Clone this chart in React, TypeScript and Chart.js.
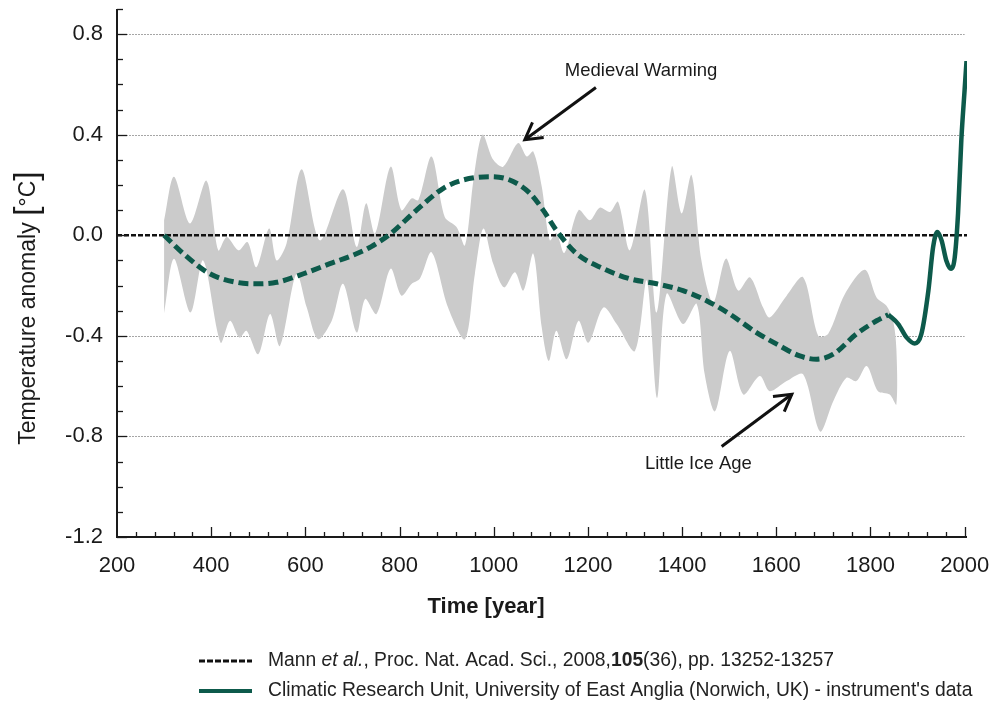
import { useEffect, useRef } from "react";
import { Chart, registerables } from "chart.js";

Chart.register(...registerables);

// ---------- data ----------
const upperYears = [300, 321, 355, 390, 415, 433, 458, 477, 496, 523, 539, 560, 592, 631, 680, 709, 729, 748, 781, 804, 826, 840, 868, 896, 921, 939, 957, 976, 999, 1020, 1052, 1070, 1084, 1102, 1119, 1133, 1150, 1180, 1204, 1225, 1247, 1264, 1289, 1321, 1346, 1378, 1399, 1420, 1441, 1466, 1493, 1519, 1544, 1572, 1586, 1622, 1657, 1689, 1710, 1746, 1788, 1813, 1834, 1848, 1855];
const upperValues = [0.06, 0.233, 0.047, 0.217, -0.06, -0.007, -0.06, -0.027, -0.127, 0.027, -0.1, -0.033, 0.263, -0.02, 0.183, -0.047, 0.127, 0.007, 0.273, 0.1, 0.147, 0.14, 0.313, 0.073, 0.033, -0.04, 0.22, 0.4, 0.3, 0.273, 0.367, 0.313, 0.333, 0.193, -0.02, 0.01, -0.07, 0.1, 0.06, 0.11, 0.093, 0.133, -0.06, 0.18, -0.307, 0.273, 0.087, 0.24, -0.1, -0.267, -0.093, -0.22, -0.167, -0.287, -0.327, -0.24, -0.167, -0.4, -0.393, -0.233, -0.137, -0.247, -0.28, -0.34, -0.45];

const lowerYears = [300, 321, 356, 383, 420, 440, 460, 475, 500, 525, 546, 581, 603, 627, 656, 680, 709, 727, 751, 781, 804, 826, 843, 868, 903, 939, 960, 978, 999, 1022, 1045, 1063, 1084, 1102, 1117, 1133, 1155, 1180, 1201, 1233, 1261, 1300, 1325, 1347, 1367, 1402, 1431, 1448, 1470, 1501, 1530, 1565, 1586, 1622, 1657, 1693, 1721, 1749, 1770, 1792, 1816, 1841, 1855];
const lowerValues = [-0.31, -0.093, -0.307, -0.1, -0.427, -0.34, -0.407, -0.38, -0.473, -0.313, -0.44, -0.153, -0.287, -0.413, -0.34, -0.193, -0.387, -0.253, -0.313, -0.133, -0.24, -0.193, -0.173, -0.067, -0.287, -0.413, -0.153, 0.027, -0.113, -0.207, -0.147, -0.22, -0.073, -0.367, -0.5, -0.38, -0.493, -0.34, -0.427, -0.287, -0.353, -0.46, -0.18, -0.647, -0.233, -0.353, -0.273, -0.553, -0.7, -0.46, -0.633, -0.56, -0.62, -0.58, -0.553, -0.78, -0.66, -0.567, -0.58, -0.52, -0.62, -0.633, -0.673];

const mannYears = [300, 341, 397, 454, 496, 539, 596, 652, 700, 740, 780, 836, 893, 935, 992, 1034, 1077, 1105, 1133, 1176, 1233, 1289, 1346, 1402, 1452, 1501, 1558, 1601, 1650, 1685, 1721, 1770, 1813, 1838];
const mannValues = [0, -0.073, -0.153, -0.187, -0.193, -0.187, -0.153, -0.113, -0.08, -0.045, 0.005, 0.1, 0.187, 0.22, 0.233, 0.22, 0.167, 0.1, 0.02, -0.073, -0.133, -0.173, -0.193, -0.22, -0.26, -0.313, -0.387, -0.433, -0.48, -0.493, -0.473, -0.393, -0.34, -0.316];

const cruYears = [1838, 1859, 1877, 1894, 1908, 1923, 1933, 1942, 1951, 1961, 1971, 1979, 1986, 1993, 2000, 2004];
const cruValues = [-0.316, -0.353, -0.407, -0.43, -0.393, -0.22, -0.047, 0.013, -0.02, -0.1, -0.133, -0.087, 0.087, 0.38, 0.58, 0.693];

const zeroYears = [200, 2005];
const zeroValues = [0, 0];

const xTickValues = [200, 400, 600, 800, 1000, 1200, 1400, 1600, 1800, 2000];
const yTickValues = [-1.2, -0.8, -0.4, 0.0, 0.4, 0.8];
const yGridValues = [-0.8, -0.4, 0.4, 0.8];

const xTitle = "Time [year]";
const yTitleMain = "Temperature anomaly ";
const yTitleUnit = "°C";

// annotations: [label, textYear, textValue, tailYear, tailValue, tipYear, tipValue]
const annMedieval = ["Medieval Warming", 1151, 0.632, 1217, 0.588, 1066, 0.38];
const annLIA = ["Little Ice Age", 1321, -0.928, 1484, -0.84, 1633, -0.632];

const legendLine1: [string, string][] = [
  ["Mann ", "normal"],
  ["et al.", "italic"],
  [", Proc. Nat. Acad. Sci., 2008,", "normal"],
  ["105", "bold"],
  ["(36), pp. 13252-13257", "normal"],
];
const legendLine2 = "Climatic Research Unit, University of East Anglia (Norwich, UK) - instrument's data";

const GREEN = "#0d5a4b";
const BAND = "#cbcbcb";
const FONT = "'Liberation Sans', Arial, Helvetica, sans-serif";

const toXY = (xs: number[], ys: number[]) => xs.map((x, i) => ({ x, y: ys[i] }));

function arrow(ctx: CanvasRenderingContext2D, x1: number, y1: number, x2: number, y2: number) {
  ctx.beginPath();
  ctx.moveTo(x1, y1);
  ctx.lineTo(x2, y2);
  ctx.stroke();
  const ang = Math.atan2(y2 - y1, x2 - x1);
  const len = 19;
  const spread = 0.52;
  ctx.beginPath();
  ctx.moveTo(x2 - len * Math.cos(ang - spread), y2 - len * Math.sin(ang - spread));
  ctx.lineTo(x2, y2);
  ctx.lineTo(x2 - len * Math.cos(ang + spread), y2 - len * Math.sin(ang + spread));
  ctx.stroke();
}

const decor = {
  id: "decor",
  beforeDatasetsDraw(chart: any) {
    const { ctx, scales } = chart;
    const x = scales.x, y = scales.y;
    ctx.save();
    ctx.strokeStyle = "#a6a6a6";
    ctx.lineWidth = 1;
    ctx.setLineDash([2, 1]);
    for (const v of yGridValues) {
      const py = Math.round(y.getPixelForValue(v)) + 0.5;
      ctx.beginPath();
      ctx.moveTo(x.getPixelForValue(200), py);
      ctx.lineTo(x.getPixelForValue(2000), py);
      ctx.stroke();
    }
    ctx.restore();
  },
  afterDatasetsDraw(chart: any) {
    const { ctx, scales } = chart;
    const x = scales.x, y = scales.y;
    const x0 = x.getPixelForValue(200);
    const y0 = y.getPixelForValue(-1.2);
    ctx.save();
    // axes
    ctx.strokeStyle = "#1a1a1a";
    ctx.lineWidth = 2;
    ctx.beginPath();
    ctx.moveTo(x0, y.getPixelForValue(0.9));
    ctx.lineTo(x0, y0);
    ctx.lineTo(x.getPixelForValue(2005), y0);
    ctx.stroke();
    // y ticks
    ctx.lineWidth = 1.3;
    for (let i = -12; i <= 9; i++) {
      const py = Math.round(y.getPixelForValue(i / 10)) + 0.5;
      const major = i % 4 === 0;
      ctx.beginPath();
      ctx.moveTo(x0, py);
      ctx.lineTo(x0 + (major ? 10 : 6), py);
      ctx.stroke();
    }
    // x ticks
    for (let yr = 240; yr <= 2000; yr += 40) {
      const px = Math.round(x.getPixelForValue(yr)) + 0.5;
      const major = yr % 200 === 0;
      ctx.beginPath();
      ctx.moveTo(px, y0);
      ctx.lineTo(px, y0 - (major ? 10 : 5));
      ctx.stroke();
    }
    // annotations
    ctx.fillStyle = "#1a1a1a";
    ctx.strokeStyle = "#111";
    ctx.lineWidth = 3;
    ctx.font = `18.5px ${FONT}`;
    ctx.textBaseline = "alphabetic";
    ctx.textAlign = "left";
    for (const a of [annMedieval, annLIA]) {
      const [label, tx, ty, ax1, ay1, ax2, ay2] = a as [string, number, number, number, number, number, number];
      ctx.fillText(label, x.getPixelForValue(tx), y.getPixelForValue(ty));
      arrow(ctx, x.getPixelForValue(ax1), y.getPixelForValue(ay1), x.getPixelForValue(ax2), y.getPixelForValue(ay2));
    }
    ctx.restore();

    // titles (outside chart area)
    ctx.save();
    ctx.fillStyle = "#1a1a1a";
    ctx.textBaseline = "alphabetic";
    ctx.font = `bold 22px ${FONT}`;
    ctx.textAlign = "center";
    ctx.fillText(xTitle, 486, 613);
    // y title
    ctx.translate(35, 308);
    ctx.rotate(-Math.PI / 2);
    ctx.textAlign = "left";
    const fMain = `23px ${FONT}`;
    const fBr = `34px ${FONT}`;
    ctx.font = fMain;
    const w1 = ctx.measureText(yTitleMain).width;
    const w3 = ctx.measureText(yTitleUnit).width;
    ctx.font = fBr;
    const wb = ctx.measureText("[").width;
    const total = w1 + w3 + 2 * wb;
    let cx = -total / 2;
    ctx.font = fMain;
    ctx.fillText(yTitleMain, cx, 0);
    cx += w1;
    ctx.font = fBr;
    ctx.fillText("[", cx, 2);
    cx += wb;
    ctx.font = fMain;
    ctx.fillText(yTitleUnit, cx, 0);
    cx += w3;
    ctx.font = fBr;
    ctx.fillText("]", cx, 2);
    ctx.restore();

    // legend
    ctx.save();
    ctx.strokeStyle = "#111";
    ctx.lineWidth = 3;
    ctx.setLineDash([6, 2]);
    ctx.beginPath();
    ctx.moveTo(199, 661);
    ctx.lineTo(252, 661);
    ctx.stroke();
    ctx.setLineDash([]);
    ctx.strokeStyle = GREEN;
    ctx.lineWidth = 4;
    ctx.beginPath();
    ctx.moveTo(199, 691);
    ctx.lineTo(252, 691);
    ctx.stroke();
    ctx.fillStyle = "#222";
    ctx.textBaseline = "middle";
    ctx.textAlign = "left";
    let lx = 268;
    const fs = 19.3;
    for (const [t, s] of legendLine1) {
      ctx.font = s === "italic" ? `italic ${fs}px ${FONT}` : s === "bold" ? `bold ${fs}px ${FONT}` : `${fs}px ${FONT}`;
      ctx.fillText(t, lx, 661);
      lx += ctx.measureText(t).width;
    }
    ctx.font = `${fs}px ${FONT}`;
    ctx.fillText(legendLine2, 268, 691);
    ctx.restore();
  },
};

export default function App() {
  const ref = useRef<HTMLCanvasElement | null>(null);
  useEffect(() => {
    if (!ref.current) return;
    const bandPolygon = [
      ...toXY(upperYears, upperValues),
      ...toXY(lowerYears, lowerValues).reverse(),
    ];
    const chart = new Chart(ref.current, {
      type: "line",
      data: {
        datasets: [
          {
            label: "CRU",
            data: toXY(cruYears, cruValues),
            borderColor: GREEN,
            borderWidth: 4.5,
            pointRadius: 0,
            cubicInterpolationMode: "monotone",
            fill: false,
            order: 1,
          },
          {
            label: "Mann",
            data: toXY(mannYears, mannValues),
            borderColor: GREEN,
            borderWidth: 5,
            borderDash: [10, 5],
            pointRadius: 0,
            cubicInterpolationMode: "monotone",
            fill: false,
            order: 2,
          },
          {
            label: "zero",
            data: toXY(zeroYears, zeroValues),
            borderColor: "#111",
            borderWidth: 2.5,
            borderDash: [5, 2],
            pointRadius: 0,
            fill: false,
            order: 3,
          },
          {
            label: "band",
            data: bandPolygon,
            borderColor: "rgba(0,0,0,0)",
            borderWidth: 0,
            backgroundColor: BAND,
            pointRadius: 0,
            tension: 0.3,
            fill: "shape",
            order: 4,
          },
        ],
      },
      options: {
        animation: false,
        responsive: false,
        events: [],
        layout: { padding: { top: 9, right: 29, left: 0, bottom: 0 } },
        plugins: { legend: { display: false }, tooltip: { enabled: false }, title: { display: false } },
        scales: {
          x: {
            type: "linear",
            min: 200,
            max: 2005,
            grid: { display: false, drawTicks: false },
            border: { display: false },
            afterBuildTicks: (s: any) => {
              s.ticks = xTickValues.map((v) => ({ value: v }));
            },
            afterFit: (s: any) => {
              s.height = 171;
              s.paddingLeft = 0;
              s.paddingRight = 0;
            },
            ticks: {
              padding: 16,
              maxRotation: 0,
              autoSkip: false,
              color: "#1a1a1a",
              font: { family: FONT, size: 22 },
              callback: (v: any) => String(v),
            },
          },
          y: {
            type: "linear",
            min: -1.2,
            max: 0.9,
            grid: { display: false, drawTicks: false },
            border: { display: false },
            afterBuildTicks: (s: any) => {
              s.ticks = yTickValues.map((v) => ({ value: v }));
            },
            afterFit: (s: any) => {
              s.width = 117;
              s.paddingTop = 0;
              s.paddingBottom = 0;
            },
            ticks: {
              padding: 14,
              autoSkip: false,
              color: "#1a1a1a",
              font: { family: FONT, size: 22 },
              callback: (v: any) => Number(v).toFixed(1),
            },
          },
        },
      },
      plugins: [decor],
    } as any);
    return () => chart.destroy();
  }, []);
  return (
    <div style={{ position: "absolute", left: 0, top: 0, width: 996, height: 708, background: "#fff" }}>
      <canvas ref={ref} width={996} height={708} style={{ display: "block" }} />
    </div>
  );
}
